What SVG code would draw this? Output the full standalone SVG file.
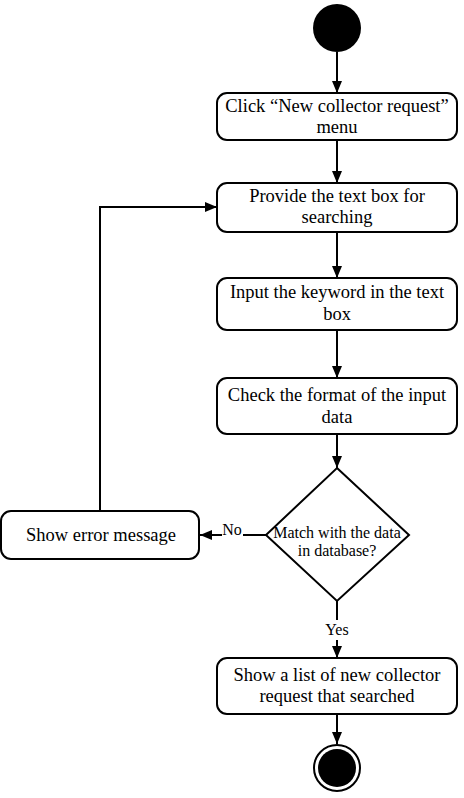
<svg xmlns="http://www.w3.org/2000/svg" width="464" height="798" viewBox="0 0 464 798">
<defs>
<style>
.box{fill:#fff;stroke:#000;stroke-width:2}
.t{font-family:"Liberation Serif","Times New Roman",serif;font-size:18.5px;fill:#000;text-anchor:middle}
.s{font-family:"Liberation Serif","Times New Roman",serif;font-size:16px;fill:#000;text-anchor:middle}
.c{fill:none;stroke:#000;stroke-width:2}
</style>
<marker id="arr" markerUnits="userSpaceOnUse" markerWidth="12" markerHeight="10" refX="12" refY="5" orient="auto">
<path d="M0 0 L12 5 L0 10 Z" fill="#000"/>
</marker>
</defs>
<rect width="464" height="798" fill="#fff"/>
<g id="connectors">
<path class="c" d="M337 52 V93" marker-end="url(#arr)"/>
<path class="c" d="M337 140 V183" marker-end="url(#arr)"/>
<path class="c" d="M337 232 V278" marker-end="url(#arr)"/>
<path class="c" d="M337 330 V378" marker-end="url(#arr)"/>
<path class="c" d="M337 434 V468" marker-end="url(#arr)"/>
<path class="c" d="M266 535 H243"/>
<path class="c" d="M222 535 H200" marker-end="url(#arr)"/>
<text class="s" x="232" y="535">No</text>
<path class="c" d="M337 601 V620"/>
<path class="c" d="M337 640 V658" marker-end="url(#arr)"/>
<text class="s" x="337" y="635">Yes</text>
<path class="c" d="M100 511 V207 H217" marker-end="url(#arr)"/>
<path class="c" d="M337 714 V744" marker-end="url(#arr)"/>
</g>
<g id="start">
<circle cx="337" cy="28" r="24" fill="#000"/>
</g>
<g id="n1">
<rect class="box" x="217" y="93" width="240" height="47" rx="10"/>
<text class="t" x="337" y="112">Click “New collector request”</text>
<text class="t" x="337" y="133">menu</text>
</g>
<g id="n2">
<rect class="box" x="217" y="183" width="240" height="49" rx="10"/>
<text class="t" x="337" y="202">Provide the text box for</text>
<text class="t" x="337" y="223">searching</text>
</g>
<g id="n3">
<rect class="box" x="217" y="278" width="240" height="52" rx="10"/>
<text class="t" x="337" y="298">Input the keyword in the text</text>
<text class="t" x="337" y="320">box</text>
</g>
<g id="n4">
<rect class="box" x="217" y="378" width="240" height="56" rx="10"/>
<text class="t" x="337" y="401">Check the format of the input</text>
<text class="t" x="337" y="423">data</text>
</g>
<g id="decision">
<polygon points="337,468 409,535 337,601 266,535" fill="#fff" stroke="#000" stroke-width="2"/>
<text class="s" x="337" y="538">Match with the data</text>
<text class="s" x="337" y="556">in database?</text>
</g>
<g id="error">
<rect class="box" x="1" y="511" width="198" height="48" rx="10"/>
<text class="t" x="101" y="541">Show error message</text>
</g>
<g id="n5">
<rect class="box" x="217" y="658" width="240" height="56" rx="10"/>
<text class="t" x="337" y="681">Show a list of new collector</text>
<text class="t" x="337" y="702">request that searched</text>
</g>
<g id="end">
<circle cx="337" cy="768" r="23" fill="#fff" stroke="#000" stroke-width="2"/>
<circle cx="337" cy="768" r="19" fill="#000"/>
</g>
</svg>
